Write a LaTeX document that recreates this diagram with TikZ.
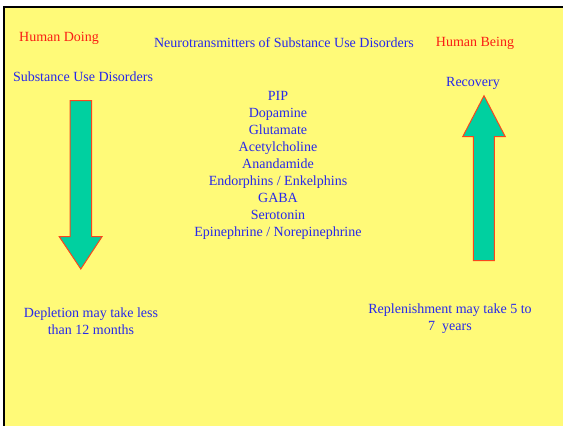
\documentclass[tikz,border=0pt]{standalone}
\usepackage{fontspec}
\setmainfont{Liberation Serif}
\definecolor{slide}{RGB}{255,250,120}
\definecolor{txtblue}{RGB}{40,40,235}
\definecolor{txtred}{RGB}{250,30,20}
\definecolor{arrowfill}{RGB}{0,208,160}
\definecolor{arrowline}{RGB}{250,70,30}
\tikzset{
  lbl/.style={inner sep=0pt, text=txtblue, align=center, font=\fontsize{14}{16.9}\selectfont},
  redlbl/.style={lbl, text=txtred},
  bigarrow/.style={fill=arrowfill, draw=arrowline, line width=1pt, line join=miter}
}
\begin{document}
\begin{tikzpicture}[x=1pt,y=-1pt]
  \useasboundingbox (0,0) rectangle (563,426);
  % slide background with the dark frame on top and left
  \fill[white] (0,0) rectangle (563,426);
  \fill[slide] (4.5,7.5) rectangle (563,426);
  \fill[black] (2.5,5.5) rectangle (563,8);
  \fill[black] (2.5,5.5) rectangle (5,426);

  % headings
  \node[redlbl] (doing) at (59,38) {Human Doing};
  \node[lbl] (title) at (284,43) {Neurotransmitters of Substance Use Disorders};
  \node[redlbl] (being) at (475,43) {Human Being};
  \node[lbl] (sud) at (83,77) {Substance Use Disorders};
  \node[lbl] (recovery) at (473,83) {Recovery};

  % list of neurotransmitters
  \node[lbl] (list) at (278,165.5) {PIP\\Dopamine\\Glutamate\\Acetylcholine\\Anandamide\\Endorphins / Enkelphins\\GABA\\Serotonin\\Epinephrine / Norepinephrine};

  % downward arrow (depletion)
  \draw[bigarrow] (70,100.7) -- (91.7,100.7) -- (91.7,236.7) -- (102,236.7)
    -- (80.8,269) -- (59.3,236.7) -- (70,236.7) -- cycle;
  % upward arrow (recovery)
  \draw[bigarrow] (473.3,260.7) -- (494.3,260.7) -- (494.3,136.7) -- (505.3,136.7)
    -- (484,95.7) -- (462.7,136.7) -- (473.3,136.7) -- cycle;

  % notes under the arrows
  \node[lbl] (deplete) at (91,321) {Depletion may take less\\than 12 months};
  \node[lbl] (replenish) at (450,318.5) {Replenishment may take 5 to\\7\ \ years};
\end{tikzpicture}
\end{document}
